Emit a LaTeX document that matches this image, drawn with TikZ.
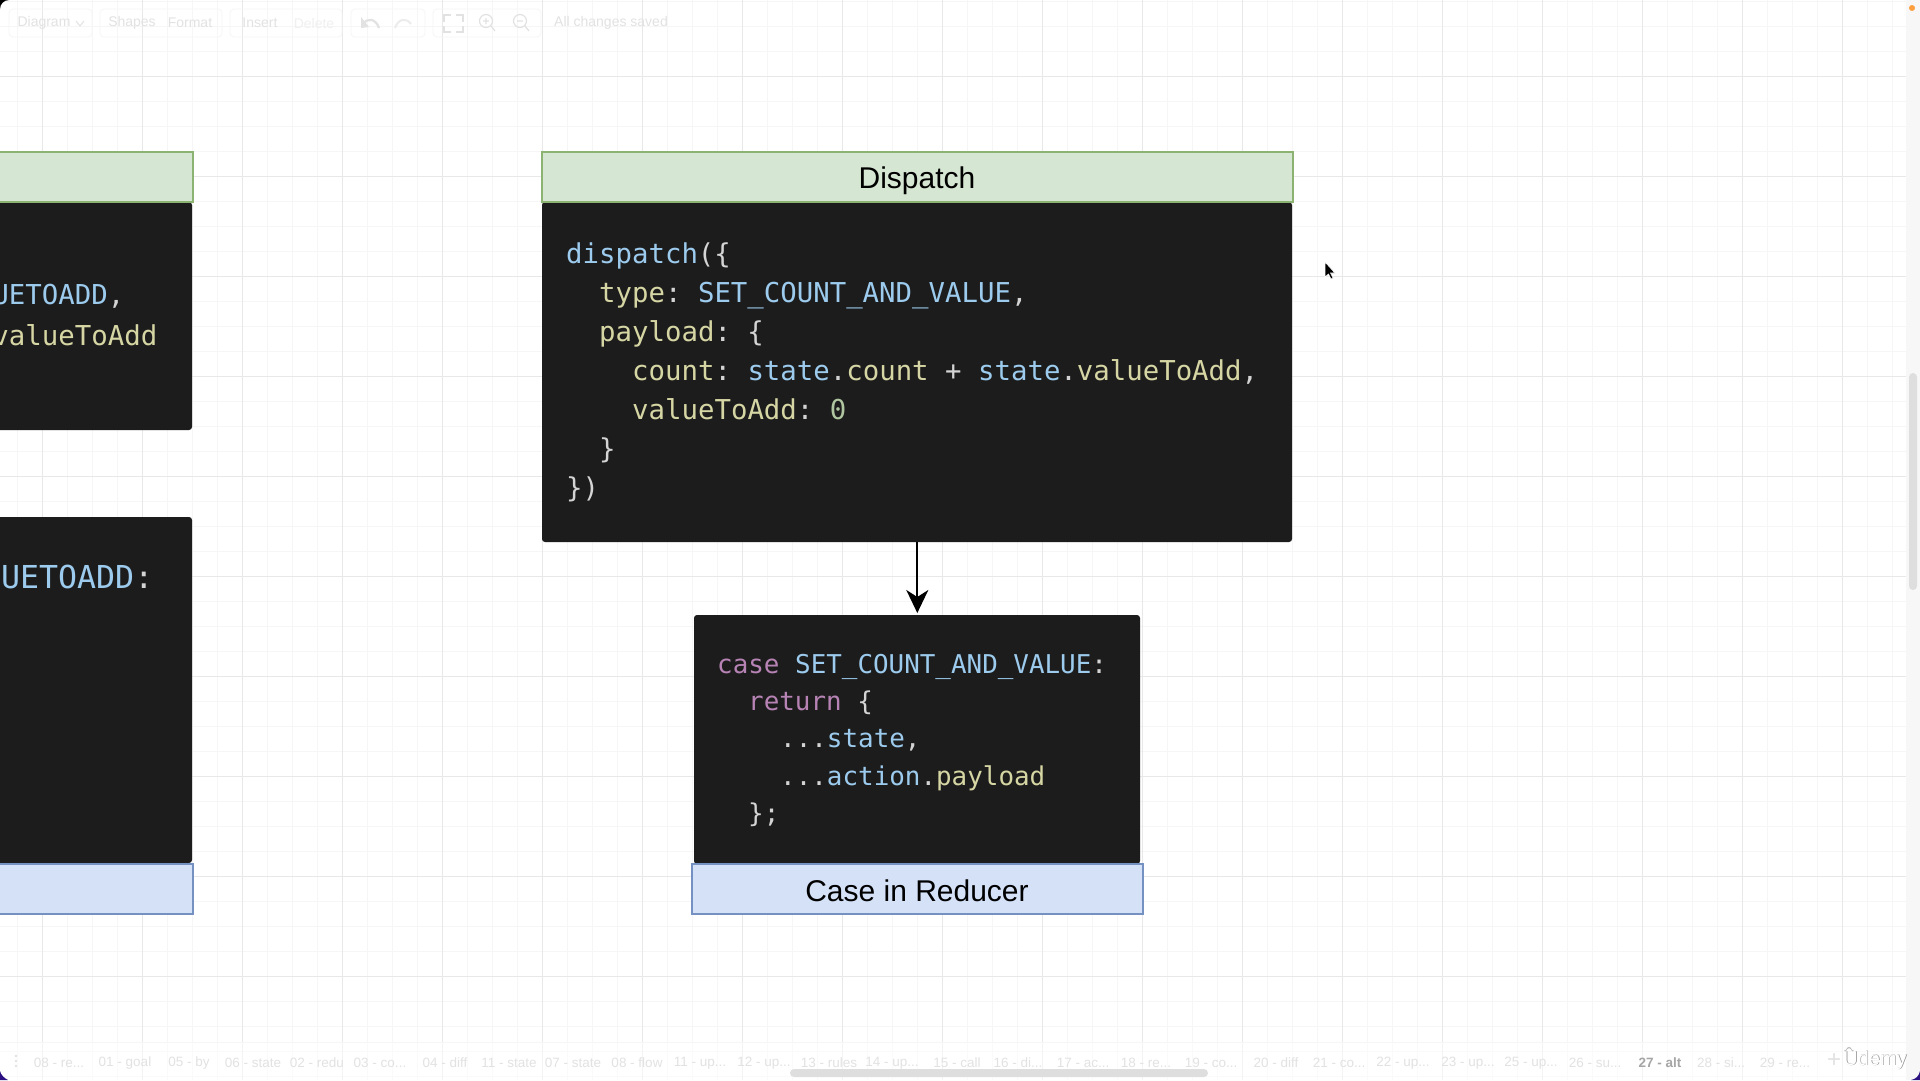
\documentclass[tikz,border=0pt]{standalone}
\usepackage{fontspec}
\setmainfont{Liberation Sans}
\setmonofont{DejaVu Sans Mono}
\usetikzlibrary{arrows.meta}
\definecolor{codebg}{HTML}{1C1C1C}
\definecolor{cblue}{HTML}{9CCBEE}
\definecolor{cyel}{HTML}{D6D6A4}
\definecolor{cpur}{HTML}{B783B5}
\definecolor{cwht}{HTML}{D4D4D4}
\definecolor{cnum}{HTML}{B0C6A0}
\definecolor{gfill}{HTML}{D5E6D2}
\definecolor{gline}{HTML}{8DB372}
\definecolor{bfill}{HTML}{D4E1F7}
\definecolor{bline}{HTML}{7591C2}
\definecolor{gmajor}{HTML}{E8E8E8}
\definecolor{gminor}{HTML}{F6F6F6}
\definecolor{uitext}{HTML}{E2E2E2}
\definecolor{cornerv}{HTML}{2A1080}
\tikzset{
  x=1pt,y=-1pt,
  codebox/.style={fill=codebg,rounded corners=3pt,draw=none},
  greenbar/.style={fill=gfill,draw=gline,line width=2.5pt},
  bluebar/.style={fill=bfill,draw=bline,line width=2.5pt},
  barlabel/.style={font=\fontsize{30}{36}\selectfont,text=black,inner sep=0pt},
  codeA/.style={font=\ttfamily\fontsize{27.36}{39}\selectfont,anchor=base west,inner sep=0pt,text=cwht},
  codeB/.style={font=\ttfamily\fontsize{25.9}{37}\selectfont,anchor=base west,inner sep=0pt,text=cwht},
  codeL/.style={font=\ttfamily\fontsize{27.4}{39}\selectfont,anchor=base east,inner sep=0pt,text=cwht},
  uil/.style={font=\fontsize{14}{16}\selectfont,text=uitext,inner sep=0pt},
  tab/.style={font=\fontsize{13.5}{16}\selectfont,text=uitext,inner sep=0pt},
}
\newcommand{\cb}[1]{\textcolor{cblue}{#1}}
\newcommand{\cy}[1]{\textcolor{cyel}{#1}}
\newcommand{\cp}[1]{\textcolor{cpur}{#1}}
\newcommand{\el}{.{}.{}.}
\begin{document}
\begin{tikzpicture}
\useasboundingbox (0,0) rectangle (1920,1080);
\fill[white] (0,0) rectangle (1920,1080);
% grid
\foreach \i in {0,...,76} {\draw[gminor,line width=.8pt] ({17.5+25*\i},0) -- ({17.5+25*\i},1080);}
\foreach \i in {0,...,43} {\draw[gminor,line width=.8pt] (0,{1+25*\i}) -- (1920,{1+25*\i});}
\foreach \i in {0,...,18} {\draw[gmajor,line width=1pt] ({42.5+100*\i},0) -- ({42.5+100*\i},1080);}
\foreach \i in {0,...,9} {\draw[gmajor,line width=1pt] (0,{76+100*\i}) -- (1920,{76+100*\i});}
% left partial boxes
\path[codebox] (-10,202) rectangle (192,430);
\path[codebox] (-10,517) rectangle (192,863);
\draw[greenbar] (-10,152) rectangle (193,202);
\draw[bluebar] (-10,864) rectangle (193,914);
\node[codeL] (l1) at (124.5,304) {\cb{UETOADD},};
\node[codeL] (l2) at (157.5,345) {\cy{valueToAdd}};
\node[codeL,font=\ttfamily\fontsize{31.6}{39}\selectfont] (l3) at (153.5,588) {\cb{UETOADD}:};
% dispatch
\path[codebox] (542,202) rectangle (1292,542);
\node[greenbar,minimum width=751pt,minimum height=50pt,inner sep=0pt] (disp) at (917.5,177) {};
\node[barlabel] (displab) at (917,181) {Dispatch};
\node[codeA] (a1) at (566,263.5) {\cb{dispatch}(\{};
\node[codeA] (a2) at (599,302.5) {\cy{type}: \cb{SET\_COUNT\_AND\_VALUE},};
\node[codeA] (a3) at (599,341.5) {\cy{payload}: \{};
\node[codeA] (a4) at (632,380.5) {\cy{count}: \cb{state}.\cy{count} + \cb{state}.\cy{valueToAdd},};
\node[codeA] (a5) at (632,419.5) {\cy{valueToAdd}: \textcolor{cnum}{0}};
\node[codeA] (a6) at (599,458.5) {\}};
\node[codeA] (a7) at (566,497.5) {\})};
% case
\path[codebox] (694,615) rectangle (1140,864);
\node[bluebar,minimum width=451pt,minimum height=50pt,inner sep=0pt] (casebar) at (917.5,889) {};
\node[barlabel] (caselab) at (917,891) {Case in Reducer};
\node[codeB] (b1) at (717,673) {\cp{case} \cb{SET\_COUNT\_AND\_VALUE}:};
\node[codeB] (b2) at (748,710) {\cp{return} \{};
\node[codeB] (b3) at (780,747.5) {\el\cb{state},};
\node[codeB] (b4) at (780,785) {\el\cb{action}.\cy{payload}};
\node[codeB] (b5) at (748,822) {\};};
% connector
\coordinate (from) at (917.3,542);
\coordinate (to) at (917.3,613);
\draw[black,line width=2pt,-{Stealth[length=23pt,width=22pt,inset=7pt]}] (from) -- (to);
% cursor
\fill[black,draw=white,line width=.6pt] (1325,262) -- (1325,277) -- (1328.5,274) -- (1331,279) -- (1333,278) -- (1330.5,273) -- (1335,273) -- cycle;
% toolbar
\foreach \xa/\xb in {9/92,100/222,230/342,351/425,433/541}{\draw[gminor,line width=.8pt,rounded corners=4pt] (\xa,9) rectangle (\xb,37);}
\node[uil] (t1) at (44,23) {Diagram};
\node[uil] (t2) at (132,23) {Shapes};
\node[uil] (t3) at (190,23) {Format};
\node[uil] (t4) at (260,23) {Insert};
\node[uil,text=gminor!70!uitext] (t5) at (314,23) {Delete};
\node[uil] (t6) at (611,23) {All changes saved};
\draw[uitext,line width=1pt] (76,21) -- (80,26) -- (84,21);
% undo/redo
\draw[uitext,line width=2.2pt] (363,24) .. controls (368,17) and (376,19) .. (379,28);
\fill[uitext] (361,17) -- (369,27) -- (361,28) -- cycle;
\draw[gminor!50!uitext,line width=2pt] (411,24) .. controls (406,17) and (398,19) .. (395,28);
% fit + zoom
\draw[uitext,line width=1.2pt] (444,22) -- (444,15) -- (451,15) (456,15) -- (463,15) -- (463,22) (463,26) -- (463,32) -- (456,32) (451,32) -- (444,32) -- (444,26);
\draw[uitext,line width=1.2pt] (486,21) circle (6.5pt) (491,26) -- (495,31) (483,21) -- (489,21) (486,18) -- (486,24);
\draw[uitext,line width=1.2pt] (520,21) circle (6.5pt) (525,26) -- (529,31) (517,21) -- (523,21);
% right strip, bottom strip
\fill[white,opacity=.5] (0,1042) rectangle (1906,1080);
\draw[gminor,line width=.8pt] (0,1042) -- (1906,1042);
\fill[black!3] (1906,0) rectangle (1920,1080);
\foreach \xx/\lab in {59/08 - re\el,125/01 - goal,189/05 - by,253/06 - state,317/02 - redu,380/03 - co\el,445/04 - diff,509/11 - state,573/07 - state,637/08 - flow,700/11 - up\el,764/12 - up\el,829/13 - rules,892/14 - up\el,957/15 - call,1018/16 - di\el,1083/17 - ac\el,1146/18 - re\el,1211/19 - co\el,1276/20 - diff,1339/21 - co\el,1403/22 - up\el,1468/23 - up\el,1531/25 - up\el,1595/26 - su\el,1721/28 - si\el,1785/29 - re\el}{\node[tab] at (\xx,1063) {\lab};}
\node[tab,font=\bfseries\fontsize{13.5}{16}\selectfont,text=black!35] (cur) at (1660,1063) {27 - alt};
\node[tab,font=\fontsize{24}{24}\selectfont] (plus) at (1834,1061) {+};
\fill[uitext] (16,1056) circle (1.4pt) (16,1061) circle (1.4pt) (16,1066) circle (1.4pt);
\fill[black!13,rounded corners=4pt] (790,1069) rectangle (1208,1077);
\fill[black!13,rounded corners=4pt] (1909,373) rectangle (1917,590);
\node[font=\fontsize{20}{24}\selectfont,text=black!45,inner sep=0pt] (udemys) at (1875.7,1060.7) {Udemy};
\node[font=\fontsize{20}{24}\selectfont,text=white,inner sep=0pt] (udemy) at (1875,1060) {Udemy};
\draw[black!30,line width=1.6pt] (1845,1051) .. controls (1847,1046) and (1851,1046) .. (1853,1051);
\draw[white,line width=1.2pt] (1845,1050) .. controls (1847,1045) and (1851,1045) .. (1853,1050);
% window corners
\fill[black] (0,0) -- (9,0) .. controls (4,0) and (0,4) .. (0,9) -- cycle;
\fill[cornerv] (0,1080) -- (8,1080) .. controls (4,1078) and (1,1075) .. (0,1071) -- cycle;
\fill[cornerv] (1920,1080) -- (1911,1080) .. controls (1916,1079) and (1919,1076) .. (1920,1071) -- cycle;
\fill[orange!75!white] (1912,8) circle (3pt);
\end{tikzpicture}
\end{document}
